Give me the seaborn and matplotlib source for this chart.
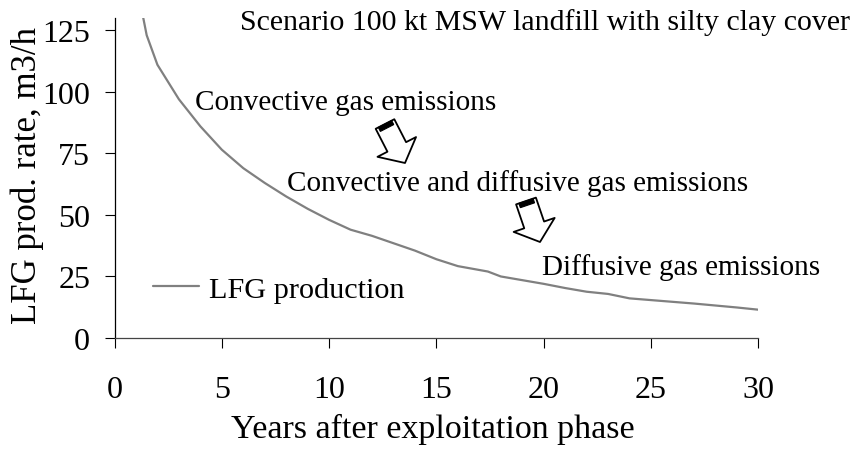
import numpy as np
import pandas as pd
import matplotlib
matplotlib.use('Agg')
import matplotlib.pyplot as plt
import seaborn as sns
from matplotlib.transforms import IdentityTransform
from matplotlib.patches import Polygon

# LFG production curve
years = [1, 1.5, 2, 3, 4, 5, 6, 7, 8, 9, 10, 11, 12, 13, 14, 15, 16, 17.4,
         18, 19, 20, 21, 22, 23, 24, 25, 26, 27, 28, 29, 30]
lfg_rate = [145, 123, 111, 97, 86, 76.5, 69, 63, 57.5, 52.5, 48, 44, 41.5, 38.5,
            35.5, 32, 29.2, 27, 25, 23.5, 22, 20.3, 18.8, 17.9, 16.1, 15.4, 14.7,
            14, 13.2, 12.4, 11.5]

x_ticks = [0, 5, 10, 15, 20, 25, 30]
y_ticks = [0, 25, 50, 75, 100, 125]

title_text = 'Scenario 100 kt MSW landfill with silty clay cover'
phase_labels = ['Convective gas emissions',
                'Convective and diffusive gas emissions',
                'Diffusive gas emissions']
phase_pos = [(3.75, 96), (8.05, 63), (19.9, 29)]

df = pd.DataFrame({'year': years, 'rate': lfg_rate})

sns.set_style('ticks')
plt.rcParams['font.family'] = ['Liberation Serif', 'DejaVu Serif']
plt.rcParams['font.size'] = 21
plt.rcParams['text.color'] = 'black'
plt.rcParams['axes.labelcolor'] = 'black'
plt.rcParams['xtick.color'] = 'black'
plt.rcParams['ytick.color'] = 'black'

fig = plt.figure(figsize=(8.5, 4.52), dpi=100)
ax = fig.add_axes([114.5 / 850, 1 - 339 / 452, (758.3 - 114.5) / 850, 320 / 452])

sns.lineplot(data=df, x='year', y='rate', ax=ax, color='#808080', linewidth=1.6,
             label='LFG production')

ax.set_xlim(0, 30)
ax.set_ylim(0, 130)
ax.set_xticks(x_ticks)
ax.set_yticks(y_ticks)
ax.tick_params(axis='x', direction='out', length=7.5, width=0.8, pad=19,
               labelsize=23, color='black', labelcolor='black')
ax.tick_params(axis='y', direction='out', length=7.5, width=0.8, pad=10,
               labelsize=23, color='black', labelcolor='black')

sns.despine(ax=ax)
ax.spines['left'].set_linewidth(0.9)
ax.spines['left'].set_color('black')
ax.spines['bottom'].set_linewidth(0.9)
ax.spines['bottom'].set_color('#444444')

ax.set_xlabel('Years after exploitation phase', fontsize=24.5, color='black')
ax.set_ylabel('LFG prod. rate, m3/h', fontsize=25, color='black')
ax.xaxis.set_label_coords(0.495, -0.235)
ax.yaxis.set_label_coords(-0.11, 0.51)

leg = ax.legend(loc='center left', bbox_to_anchor=(0.06, 0.153), frameon=False,
                borderpad=0, borderaxespad=0, handlelength=1.5,
                handletextpad=0.33, fontsize=21.8, labelcolor='black')

for label, (px, py) in zip(phase_labels, phase_pos):
    ax.text(px, py, label, ha='left', va='center', fontsize=21, color='black')

fig.text(240 / 850, 1 - 23 / 452, title_text, ha='left', va='center', fontsize=21.5,
         color='black')

# block arrows between the phases (figure pixels), with a dark band at the tail
for tail, tip in [((385, 452 - 125), (405, 452 - 164)),
                  ((526, 452 - 202), (540, 452 - 243))]:
    ax.annotate('', xy=tip, xytext=tail, xycoords='figure pixels',
                textcoords='figure pixels',
                arrowprops=dict(arrowstyle='simple,head_width=1.2,head_length=0.5,tail_width=0.58',
                                fc='white', ec='black', lw=1.3,
                                shrinkA=0, shrinkB=0, mutation_scale=26))
    d = np.subtract(tip, tail) / np.hypot(*np.subtract(tip, tail))
    n = np.array([-d[1], d[0]])
    half = 7.5
    t0 = np.array(tail)
    band = [t0 + n * half, t0 - n * half, t0 - n * half + d * 4.5, t0 + n * half + d * 4.5]
    fig.patches.append(Polygon(band, closed=True, facecolor='black', edgecolor='black',
                               lw=0.8, transform=IdentityTransform(), zorder=5))

fig.savefig('out.png', dpi=100)
